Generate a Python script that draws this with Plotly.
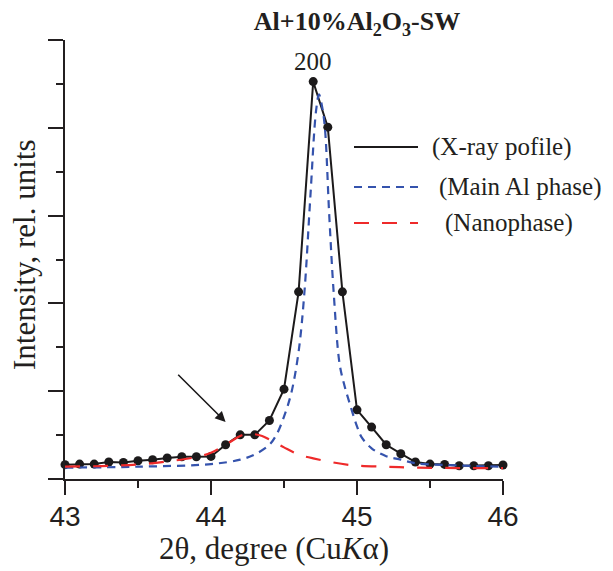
import plotly.graph_objects as go

# ---- data (intensity in arbitrary rel. units) ----
two_theta = [43.0, 43.1, 43.2, 43.3, 43.4, 43.5, 43.6, 43.7, 43.8, 43.9,
             44.0, 44.1, 44.2, 44.3, 44.4, 44.5, 44.6, 44.7, 44.8, 44.9,
             45.0, 45.1, 45.2, 45.3, 45.4, 45.5, 45.6, 45.7, 45.8, 45.9, 46.0]
xray_profile = [163, 170, 170, 193, 189, 208, 219, 239, 253, 253,
                257, 390, 503, 503, 666, 1023, 2132, 4526, 4007, 2132,
                788, 591, 390, 288, 193, 170, 166, 151, 151, 151, 159]

main_x = [43.0, 43.5, 44.0, 44.2, 44.3, 44.4, 44.45, 44.5, 44.55, 44.6,
          44.64, 44.68, 44.72, 44.74, 44.76, 44.78, 44.81, 44.84, 44.88, 44.91,
          44.95, 45.0, 45.03, 45.1, 45.2, 45.3, 45.4, 45.6, 46.0]
main_al = [130, 140, 170, 220, 280, 390, 510, 710, 980, 1450,
           2130, 3200, 4200, 4380, 4250, 4000, 3000, 2130, 1320, 1090,
           860, 600, 480, 350, 260, 220, 180, 160, 140]

nano_x = [43.0, 43.3, 43.5, 43.7, 43.9, 44.0, 44.1, 44.2, 44.25, 44.3,
          44.35, 44.4, 44.5, 44.6, 44.7, 44.95, 45.2, 45.4, 45.7, 46.0]
nanophase = [140, 150, 165, 200, 250, 300, 390, 490, 515, 510,
             490, 450, 360, 280, 235, 160, 140, 130, 125, 125]

x_ticks = [43, 44, 45, 46]
legend_labels = ["(X-ray pofile)", "(Main Al phase)", "(Nanophase)"]

BLACK = "#1c1a1b"
BLUE = "#3553ad"
RED = "#ee2a2a"
AXC = "#231f20"
SERIF = "Liberation Serif, Times New Roman, serif"
SANS = "Liberation Sans, Arial, sans-serif"

# figure is placed by the page with an 8 px body margin
OFF = 8
W, H = 613 - OFF, 571 - OFF
L, R, T, B = 57, 110, 32, 92
PW, PH = W - L - R, H - T - B


def px(xp):
    """page x pixel -> paper x"""
    return (xp - OFF - L) / PW


def py(yp):
    """page y pixel -> paper y"""
    return (H - B - (yp - OFF)) / PH


fig = go.Figure()
fig.add_trace(go.Scatter(x=two_theta, y=xray_profile, mode="lines+markers",
                         line=dict(color=BLACK, width=2),
                         marker=dict(color=BLACK, size=9),
                         cliponaxis=False, showlegend=False,
                         name=legend_labels[0]))
fig.add_trace(go.Scatter(x=main_x, y=main_al, mode="lines",
                         line=dict(color=BLUE, width=2.2, dash="8px,6px", shape="spline"),
                         cliponaxis=False, showlegend=False,
                         name=legend_labels[1]))
fig.add_trace(go.Scatter(x=nano_x, y=nanophase, mode="lines",
                         line=dict(color=RED, width=2.2, dash="15px,13px", shape="spline"),
                         cliponaxis=False, showlegend=False,
                         name=legend_labels[2]))

# manual legend
leg_rows = [(147, 430, dict(color=BLACK, width=2)),
            (187, 437, dict(color=BLUE, width=2.2, dash="8px,6px")),
            (223, 443, dict(color=RED, width=2.2, dash="15px,13px"))]
for (yy, tx, ln), lab in zip(leg_rows, legend_labels):
    fig.add_shape(type="line", xref="paper", yref="paper",
                  x0=px(354), x1=px(418), y0=py(yy), y1=py(yy), line=ln)
    fig.add_annotation(xref="paper", yref="paper", x=px(tx), y=py(yy),
                       text=lab, showarrow=False, xanchor="left", yanchor="middle",
                       font=dict(family=SERIF, size=25, color=AXC))

# peak label
fig.add_annotation(x=44.7, y=4760, text="200", showarrow=False,
                   xanchor="center", yanchor="middle",
                   font=dict(family=SERIF, size=25, color=AXC))

# arrow pointing at nanophase shoulder
fig.add_annotation(x=44.10, y=650, ax=43.765, ay=1205, xref="x", yref="y",
                   axref="x", ayref="y", text="", showarrow=True,
                   arrowhead=2, arrowsize=1.3, arrowwidth=1.6, arrowcolor=BLACK)

# axis titles
fig.add_annotation(xref="paper", yref="paper", x=px(274), y=py(548),
                   text="2θ, degree (Cu<i>K</i>α)", showarrow=False,
                   xanchor="center", yanchor="middle",
                   font=dict(family=SERIF, size=31, color=AXC))
fig.add_annotation(xref="paper", yref="paper", x=px(25), y=py(255),
                   text="Intensity, rel. units", showarrow=False, textangle=-90,
                   xanchor="center", yanchor="middle",
                   font=dict(family=SERIF, size=31, color=AXC))

fig.update_layout(
    width=W, height=H,
    margin=dict(l=L, r=R, t=T, b=B),
    paper_bgcolor="white", plot_bgcolor="white",
    title=dict(text="<b>Al+10%Al<sub>2</sub>O<sub>3</sub>-SW</b>",
               x=(357 - OFF) / W, xanchor="center", xref="container",
               y=1 - (21 - OFF) / H, yanchor="middle", yref="container",
               font=dict(family=SERIF, size=26, color=AXC)),
    showlegend=False,
)
fig.update_xaxes(range=[43, 46], tickvals=x_ticks, ticktext=[str(v) for v in x_ticks],
                 showgrid=False, zeroline=False, showline=True,
                 linecolor=AXC, linewidth=2, ticks="outside", ticklen=14,
                 tickwidth=2, tickcolor=AXC, ticklabelstandoff=-3,
                 minor=dict(dtick=0.5, ticks="outside", ticklen=7, tickwidth=2,
                            tickcolor=AXC, showgrid=False),
                 tickfont=dict(family=SANS, size=28, color=AXC))
fig.update_yaxes(range=[0, 5000], dtick=1000, showticklabels=False,
                 showgrid=False, zeroline=False, showline=True,
                 linecolor=AXC, linewidth=2, ticks="outside", ticklen=15,
                 tickwidth=2, tickcolor=AXC,
                 minor=dict(dtick=500, ticks="outside", ticklen=7, tickwidth=2,
                            tickcolor=AXC, showgrid=False))

fig.write_html("out.html")
